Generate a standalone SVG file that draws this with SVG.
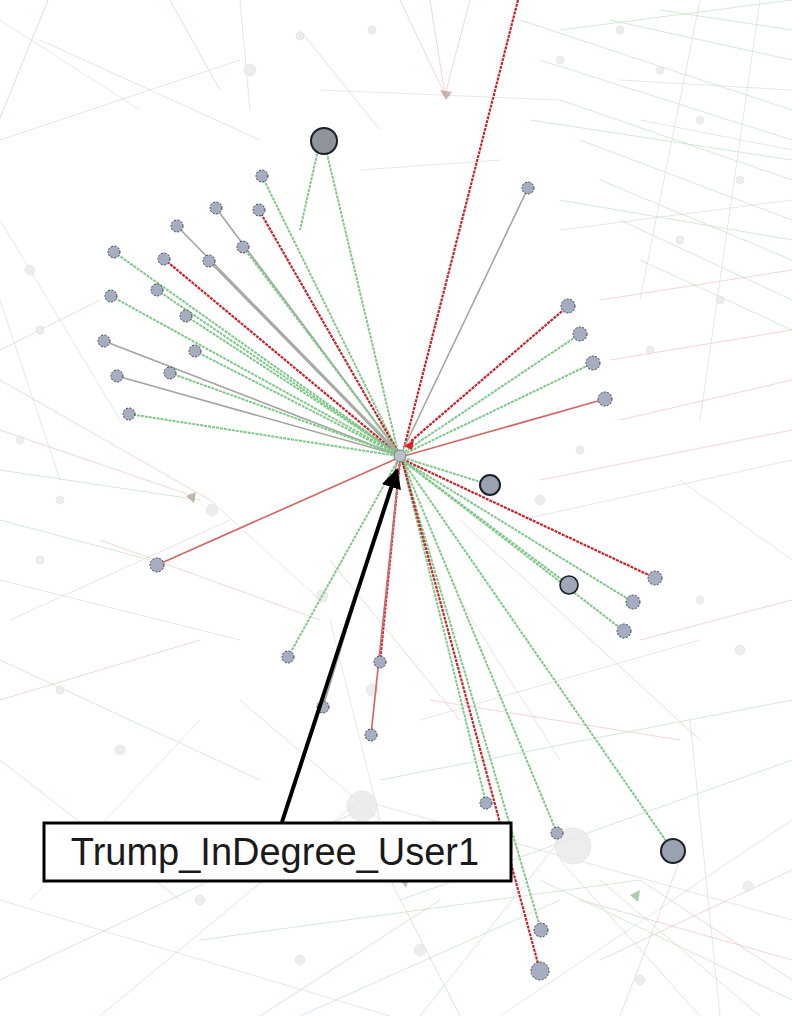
<svg xmlns="http://www.w3.org/2000/svg" width="792" height="1016" viewBox="0 0 792 1016">
  <defs>
    <style>
      .bg-r { stroke: #e7b4b4; stroke-width: 1; fill: none; opacity: 0.55; }
      .bg-g { stroke: #b9dcb9; stroke-width: 1; fill: none; opacity: 0.6; }
      .bg-k { stroke: #d6d6d6; stroke-width: 1; fill: none; opacity: 0.6; }
      .ghost { fill: #e9e9e9; stroke: #dcdcdc; stroke-width: 0.6; opacity: 0.8; }
      .red { stroke: #c4262e; stroke-width: 2.2; stroke-dasharray: 3 1; fill: none; }
      .redf { stroke: #d26a6a; stroke-width: 1.7; fill: none; }
      .green { stroke: #80c78a; stroke-width: 2; stroke-dasharray: 3 1; fill: none; }
      .grey { stroke: #a3a59f; stroke-width: 1.6; fill: none; }
      .node { fill: #a6adc0; stroke: #3a3f4a; stroke-width: 1; stroke-dasharray: 2 1.5; }
      .big { fill: #8e939c; stroke: #1c1f24; stroke-width: 2; }
      .label { font-family: "Liberation Sans", Arial, sans-serif; font-size: 38px; fill: #1a1a1a; }
    </style>
    <marker id="blackHead" viewBox="0 0 10 10" refX="9" refY="5" markerWidth="5" markerHeight="5" orient="auto">
      <path d="M0,0 L10,5 L0,10 z" fill="#000"/>
    </marker>
  </defs>

  <rect width="792" height="1016" fill="#ffffff"/>

  <!-- faint background network -->
  <g id="background">
    <path class="bg-r" d="M0,118 L48,0"/>
    <path class="bg-r" d="M170,0 L220,90"/>
    <path class="bg-k" d="M0,140 L240,60"/>
    <path class="bg-k" d="M240,0 L250,110"/>
    <path class="bg-r" d="M400,0 L445,95"/>
    <path class="bg-r" d="M470,0 L445,95"/>
    <path class="bg-r" d="M430,0 L445,95"/>
    <path class="bg-g" d="M520,20 L792,110"/>
    <path class="bg-g" d="M540,60 L792,140"/>
    <path class="bg-g" d="M560,100 L792,180"/>
    <path class="bg-g" d="M580,140 L792,220"/>
    <path class="bg-g" d="M600,180 L792,260"/>
    <path class="bg-g" d="M620,220 L792,300"/>
    <path class="bg-g" d="M640,260 L792,330"/>
    <path class="bg-g" d="M610,20 L792,60"/>
    <path class="bg-g" d="M660,10 L792,30"/>
    <path class="bg-g" d="M560,30 L792,0"/>
    <path class="bg-g" d="M530,120 L792,160"/>
    <path class="bg-g" d="M560,200 L792,240"/>
    <path class="bg-k" d="M620,80 L792,90"/>
    <path class="bg-k" d="M640,120 L792,150"/>
    <path class="bg-r" d="M600,300 L792,270"/>
    <path class="bg-r" d="M610,360 L792,330"/>
    <path class="bg-r" d="M620,420 L792,380"/>
    <path class="bg-k" d="M560,230 L792,200"/>
    <path class="bg-k" d="M700,0 L640,300"/>
    <path class="bg-k" d="M760,0 L700,420"/>
    <path class="bg-k" d="M0,220 L120,420"/>
    <path class="bg-k" d="M0,300 L60,480"/>
    <path class="bg-r" d="M0,380 L210,500"/>
    <path class="bg-r" d="M0,430 L190,495"/>
    <path class="bg-g" d="M0,470 L200,500"/>
    <path class="bg-g" d="M0,520 L150,560"/>
    <path class="bg-g" d="M0,350 L100,300"/>
    <path class="bg-k" d="M0,580 L240,640"/>
    <path class="bg-k" d="M10,620 L230,520"/>
    <path class="bg-g" d="M0,660 L260,780"/>
    <path class="bg-r" d="M0,700 L200,640"/>
    <path class="bg-g" d="M0,760 L180,900"/>
    <path class="bg-k" d="M30,900 L200,720"/>
    <path class="bg-r" d="M100,540 L320,620"/>
    <path class="bg-k" d="M210,500 L320,600"/>
    <path class="bg-r" d="M460,520 L700,740"/>
    <path class="bg-k" d="M520,520 L792,460"/>
    <path class="bg-r" d="M540,480 L792,430"/>
    <path class="bg-k" d="M680,480 L792,560"/>
    <path class="bg-r" d="M640,640 L792,600"/>
    <path class="bg-k" d="M420,720 L700,640"/>
    <path class="bg-r" d="M430,700 L680,740"/>
    <path class="bg-g" d="M380,780 L792,700"/>
    <path class="bg-g" d="M400,900 L792,760"/>
    <path class="bg-k" d="M500,1016 L792,820"/>
    <path class="bg-g" d="M540,880 L792,1000"/>
    <path class="bg-r" d="M600,960 L792,870"/>
    <path class="bg-k" d="M360,800 L792,920"/>
    <path class="bg-g" d="M200,940 L640,880"/>
    <path class="bg-g" d="M100,1016 L360,800"/>
    <path class="bg-g" d="M0,980 L360,810"/>
    <path class="bg-k" d="M0,900 L390,1016"/>
    <path class="bg-r" d="M260,1016 L440,900"/>
    <path class="bg-g" d="M420,1016 L560,840"/>
    <path class="bg-g" d="M620,1016 L680,860"/>
    <path class="bg-k" d="M720,1016 L690,720"/>
    <path class="bg-g" d="M760,1016 L600,880"/>
    <path class="bg-r" d="M792,980 L640,880"/>
    <path class="bg-g" d="M300,1016 L560,900"/>
    <path class="bg-g" d="M460,1016 L380,860"/>
    <path class="bg-g" d="M700,1016 L560,860"/>
    <path class="bg-r" d="M580,900 L792,960"/>
    <path class="bg-k" d="M330,620 L380,820"/>
    <path class="bg-g" d="M240,700 L380,820"/>
    <path class="bg-k" d="M460,600 L560,760"/>
    <path class="bg-r" d="M330,560 L460,720"/>
    <path class="bg-k" d="M40,40 L260,140"/>
    <path class="bg-k" d="M0,20 L140,110"/>
    <path class="bg-g" d="M300,30 L380,130"/>
    <path class="bg-k" d="M320,90 L560,100"/>
    <path class="bg-k" d="M360,170 L500,160"/>
    <circle class="ghost" cx="362" cy="806" r="15"/>
    <circle class="ghost" cx="573" cy="846" r="18"/>
    <circle class="ghost" cx="250" cy="70" r="6"/>
    <circle class="ghost" cx="300" cy="36" r="4"/>
    <circle class="ghost" cx="372" cy="30" r="4"/>
    <circle class="ghost" cx="560" cy="60" r="4"/>
    <circle class="ghost" cx="620" cy="30" r="4"/>
    <circle class="ghost" cx="660" cy="70" r="4"/>
    <circle class="ghost" cx="700" cy="120" r="4"/>
    <circle class="ghost" cx="740" cy="180" r="4"/>
    <circle class="ghost" cx="680" cy="240" r="4"/>
    <circle class="ghost" cx="720" cy="300" r="4"/>
    <circle class="ghost" cx="650" cy="350" r="4"/>
    <circle class="ghost" cx="30" cy="270" r="5"/>
    <circle class="ghost" cx="40" cy="330" r="4"/>
    <circle class="ghost" cx="20" cy="440" r="4"/>
    <circle class="ghost" cx="60" cy="500" r="4"/>
    <circle class="ghost" cx="40" cy="560" r="4"/>
    <circle class="ghost" cx="212" cy="510" r="6"/>
    <circle class="ghost" cx="322" cy="596" r="6"/>
    <circle class="ghost" cx="372" cy="690" r="6"/>
    <circle class="ghost" cx="120" cy="750" r="5"/>
    <circle class="ghost" cx="60" cy="690" r="4"/>
    <circle class="ghost" cx="740" cy="650" r="5"/>
    <circle class="ghost" cx="700" cy="600" r="4"/>
    <circle class="ghost" cx="748" cy="886" r="5"/>
    <circle class="ghost" cx="420" cy="950" r="6"/>
    <circle class="ghost" cx="300" cy="960" r="5"/>
    <circle class="ghost" cx="200" cy="900" r="5"/>
    <circle class="ghost" cx="640" cy="980" r="5"/>
    <circle class="ghost" cx="540" cy="500" r="5"/>
    <circle class="ghost" cx="580" cy="450" r="4"/>
    <circle class="ghost" cx="380" cy="430" r="6"/>
    <path d="M440,90 L452,92 L446,100 z" fill="#b89a8a" opacity="0.7"/>
    <path d="M186,496 L196,492 L194,503 z" fill="#a89888" opacity="0.7"/>
    <path d="M630,895 L640,890 L638,902 z" fill="#8fb88f" opacity="0.7"/>
    <path d="M400,880 L410,876 L406,888 z" fill="#a89888" opacity="0.6"/>
  </g>

  <!-- spokes to the hub -->
  <g id="connectors">
    <path class="red" d="M518,0 L404,448"/>
    <path class="green" d="M324,141 L398,452"/>
    <path class="green" d="M318,150 L300,230"/>
    <path class="grey" d="M528,188 L402,452"/>
    <path class="green" d="M262,176 L398,452"/>
    <path class="red" d="M259,210 L398,452"/>
    <path class="grey" d="M216,208 L398,452"/>
    <path class="green" d="M243,247 L398,452"/>
    <path class="grey" d="M177,226 L398,452"/>
    <path class="green" d="M114,252 L398,454"/>
    <path class="red" d="M164,259 L398,454"/>
    <path class="grey" d="M209,261 L398,454"/>
    <path class="green" d="M157,290 L398,454"/>
    <path class="green" d="M111,296 L398,454"/>
    <path class="green" d="M186,316 L398,454"/>
    <path class="grey" d="M104,341 L398,455"/>
    <path class="green" d="M195,351 L398,455"/>
    <path class="grey" d="M117,376 L398,455"/>
    <path class="green" d="M170,373 L398,455"/>
    <path class="green" d="M129,414 L398,456"/>
    <path class="red" d="M568,306 L410,442"/>
    <path class="green" d="M580,334 L404,452"/>
    <path class="green" d="M593,363 L404,454"/>
    <path class="redf" d="M605,399 L404,456"/>
    <path class="green" d="M490,485 L404,458"/>
    <path class="redf" d="M157,565 L398,458"/>
    <path class="red" d="M655,578 L404,460"/>
    <path class="green" d="M569,585 L402,460"/>
    <path class="green" d="M633,602 L402,460"/>
    <path class="green" d="M624,631 L402,460"/>
    <path class="green" d="M288,657 L398,460"/>
    <path class="red" d="M380,662 L400,460"/>
    <path class="grey" d="M323,707 L398,460"/>
    <path class="redf" d="M371,735 L400,460"/>
    <path class="green" d="M486,803 L402,460"/>
    <path class="green" d="M557,833 L402,460"/>
    <path class="green" d="M673,851 L402,460"/>
    <path class="green" d="M541,930 L402,460"/>
    <path class="red" d="M540,971 L402,460"/>
    <path d="M404,446 L414,440 L412,450 z" fill="#d8232a"/>
  </g>

  <!-- nodes -->
  <g id="hub"><circle cx="400" cy="456" r="6" fill="#b8c0c8" stroke="#7a8088" stroke-width="1"/></g>
  <g id="n-big1"><circle class="big" cx="324" cy="141" r="13"/></g>
  <g id="n-big2"><circle class="big" cx="490" cy="485" r="10" style="fill:#9aa1b0"/></g>
  <g id="n-big3"><circle class="big" cx="673" cy="851" r="12" style="fill:#9aa1b0"/></g>
  <g id="n-big4"><circle class="big" cx="569" cy="585" r="9" style="fill:#a0a7b8;stroke-width:1.6"/></g>
  <g id="n01"><circle class="node" cx="528" cy="188" r="6"/></g>
  <g id="n02"><circle class="node" cx="262" cy="176" r="6"/></g>
  <g id="n03"><circle class="node" cx="216" cy="208" r="6"/></g>
  <g id="n04"><circle class="node" cx="259" cy="210" r="6"/></g>
  <g id="n05"><circle class="node" cx="177" cy="226" r="6"/></g>
  <g id="n06"><circle class="node" cx="243" cy="247" r="6"/></g>
  <g id="n07"><circle class="node" cx="114" cy="252" r="6"/></g>
  <g id="n08"><circle class="node" cx="164" cy="259" r="6"/></g>
  <g id="n09"><circle class="node" cx="209" cy="261" r="6"/></g>
  <g id="n10"><circle class="node" cx="111" cy="296" r="6"/></g>
  <g id="n11"><circle class="node" cx="157" cy="290" r="6"/></g>
  <g id="n12"><circle class="node" cx="186" cy="316" r="6"/></g>
  <g id="n13"><circle class="node" cx="104" cy="341" r="6"/></g>
  <g id="n14"><circle class="node" cx="195" cy="351" r="6"/></g>
  <g id="n15"><circle class="node" cx="117" cy="376" r="6"/></g>
  <g id="n16"><circle class="node" cx="170" cy="373" r="6"/></g>
  <g id="n17"><circle class="node" cx="129" cy="414" r="6"/></g>
  <g id="n18"><circle class="node" cx="568" cy="306" r="7"/></g>
  <g id="n19"><circle class="node" cx="580" cy="334" r="7"/></g>
  <g id="n20"><circle class="node" cx="593" cy="363" r="7"/></g>
  <g id="n21"><circle class="node" cx="605" cy="399" r="7"/></g>
  <g id="n22"><circle class="node" cx="157" cy="565" r="7"/></g>
  <g id="n23"><circle class="node" cx="655" cy="578" r="7"/></g>
  <g id="n24"><circle class="node" cx="633" cy="602" r="7"/></g>
  <g id="n25"><circle class="node" cx="624" cy="631" r="7"/></g>
  <g id="n26"><circle class="node" cx="288" cy="657" r="6"/></g>
  <g id="n27"><circle class="node" cx="380" cy="662" r="6"/></g>
  <g id="n28"><circle class="node" cx="323" cy="707" r="6"/></g>
  <g id="n29"><circle class="node" cx="371" cy="735" r="6"/></g>
  <g id="n30"><circle class="node" cx="486" cy="803" r="6"/></g>
  <g id="n31"><circle class="node" cx="557" cy="833" r="6"/></g>
  <g id="n32"><circle class="node" cx="541" cy="930" r="7"/></g>
  <g id="n33"><circle class="node" cx="540" cy="971" r="9"/></g>

  <!-- callout -->
  <g id="callout">
    <path d="M282,822 L397,470" stroke="#000" stroke-width="4" fill="none" marker-end="url(#blackHead)"/>
    <rect x="44" y="823" width="467" height="58" fill="#ffffff" stroke="#000" stroke-width="3"/>
    <text class="label" x="275" y="865" text-anchor="middle">Trump_InDegree_User1</text>
  </g>
</svg>
